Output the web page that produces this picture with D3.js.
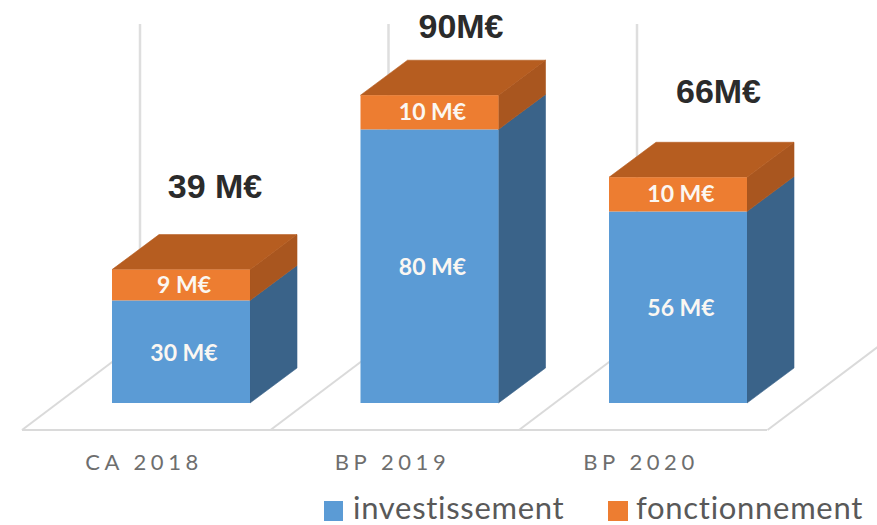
<!DOCTYPE html>
<html><head><meta charset="utf-8"><script src="https://cdn.jsdelivr.net/npm/d3@7"></script>
<style>html,body{margin:0;background:#fff}svg{display:block}</style></head><body>
<svg id="c" width="877" height="525"></svg>
<script>
const categories = ["CA 2018","BP 2019","BP 2020"];
const investissement = [30,80,56];
const fonctionnement = [9,10,10];
const totals = ["39 M€","90M€","66M€"];
const seriesNames = ["investissement","fonctionnement"];

const svg = d3.select("#c");
const stepPx = 248.5, barPx = 138, gapPx = stepPx-barPx;
const x = d3.scaleBand().domain(categories)
  .range([112-gapPx/2, 112-gapPx/2+stepPx*3]).paddingInner(gapPx/stepPx).paddingOuter(gapPx/stepPx/2);
const y = d3.scaleLinear().domain([0,100]).range([403,61]);
const dx = 47, dy = -35;
const floorY = 430;
const P = a => a.map(p=>p.join(",")).join(" ");

// back lines
svg.selectAll(".wall").data(categories).join("line")
  .attr("x1",d=>x(d)+28).attr("x2",d=>x(d)+28).attr("y1",24).attr("y2",250)
  .attr("stroke","#dedede").attr("stroke-width",2.5);

// floor
const fl = svg.append("g").attr("fill","none").attr("stroke","#dadada").attr("stroke-width",2);
fl.append("line").attr("x1",22).attr("x2",767).attr("y1",floorY).attr("y2",floorY);
const st = x.step();
fl.selectAll(".s").data([0,1,2,3]).join("line")
  .attr("x1",i=>22+i*st).attr("y1",floorY)
  .attr("x2",i=>22+i*st+110).attr("y2",floorY-83);

// bars
const g = svg.selectAll(".bar").data(categories).join("g").attr("class","bar");
const w = x.bandwidth();
function box(sel,lo,hi,front,side,top){
  sel.append("polygon").attr("points",(d,i)=>{const a=x(d)+w,b=y(lo(i)),c=y(hi(i));return P([[a,b],[a+dx,b+dy],[a+dx,c+dy],[a,c]]);}).attr("fill",side).attr("stroke",side).attr("stroke-width",.6);
  if(top) sel.append("polygon").attr("points",(d,i)=>{const a=x(d),c=y(hi(i));return P([[a,c],[a+w,c],[a+w+dx,c+dy],[a+dx,c+dy]]);}).attr("fill",top).attr("stroke",top).attr("stroke-width",.6);
  sel.append("rect").attr("x",d=>x(d)).attr("width",w).attr("y",(d,i)=>y(hi(i))).attr("height",(d,i)=>y(lo(i))-y(hi(i))).attr("fill",front);
}
box(g,()=>0,i=>investissement[i],"#5b9bd5","#3a6389",null);
box(g,i=>investissement[i],i=>investissement[i]+fonctionnement[i],"#ed7d31","#a9561f","#b65d20");

// value labels
const lab = "font-family:Lato,sans-serif;font-weight:700;font-size:23px;fill:#fbf7f2";
g.append("text").attr("x",d=>x(d)+w/2+3).attr("y",(d,i)=>(y(0)+y(investissement[i]))/2+9)
  .attr("text-anchor","middle").attr("style",lab).text((d,i)=>investissement[i]+" M€");
g.append("text").attr("x",d=>x(d)+w/2+3).attr("y",(d,i)=>(y(investissement[i])+y(investissement[i]+fonctionnement[i]))/2+8)
  .attr("text-anchor","middle").attr("style",lab).text((d,i)=>fonctionnement[i]+" M€");

// totals
const totalPos = [[215,198],[461,38],[718.5,103]];
svg.selectAll(".tot").data(totals).join("text").attr("class","tot")
  .attr("x",(d,i)=>totalPos[i][0]).attr("y",(d,i)=>totalPos[i][1]).attr("text-anchor","middle")
  .attr("style","font-family:'Liberation Sans',sans-serif;font-weight:700;font-size:34px;fill:#2b2b2b").text(d=>d);

// category labels
svg.selectAll(".cat").data(categories).join("text").attr("class","cat")
  .attr("x",d=>x(d)+w/2-37).attr("y",470).attr("text-anchor","middle")
  .attr("style","font-family:Lato,sans-serif;font-size:22px;letter-spacing:4.6px;fill:#6e6e6e").text(d=>d);

// legend
const legX=[324,608], legTx=[353,636], legC=["#5b9bd5","#ed7d31"];
const lg=svg.selectAll(".leg").data(seriesNames).join("g").attr("class","leg");
lg.append("rect").attr("x",(d,i)=>legX[i]).attr("y",501).attr("width",(d,i)=>19+i).attr("height",20).attr("fill",(d,i)=>legC[i]);
lg.append("text").attr("x",(d,i)=>legTx[i]).attr("y",519)
  .attr("style","font-family:Lato,sans-serif;font-size:31px;letter-spacing:.7px;fill:#595959").text(d=>d);
</script></body></html>
